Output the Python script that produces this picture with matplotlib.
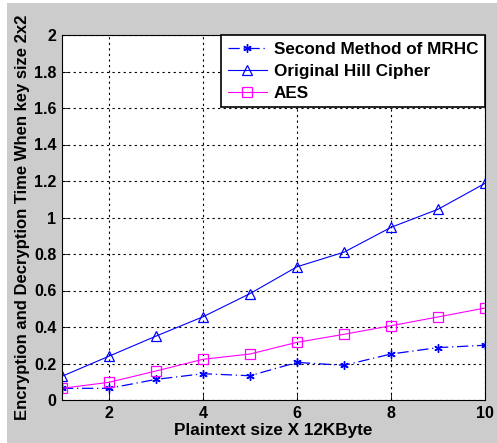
import matplotlib
matplotlib.use("Agg")
import matplotlib.pyplot as plt
from matplotlib.patches import Rectangle

x = [1, 2, 3, 4, 5, 6, 7, 8, 9, 10]
mrhc = [0.064, 0.064, 0.113, 0.144, 0.133, 0.206, 0.19, 0.252, 0.287, 0.30]
hill = [0.13, 0.24, 0.35, 0.456, 0.583, 0.73, 0.81, 0.946, 1.045, 1.187]
aes = [0.064, 0.097, 0.159, 0.223, 0.252, 0.316, 0.36, 0.407, 0.455, 0.504]
labels = ["Second Method of MRHC", "Original Hill Cipher", "AES"]
xticks = [2, 4, 6, 8, 10]
yticks = [0, 0.2, 0.4, 0.6, 0.8, 1, 1.2, 1.4, 1.6, 1.8, 2]
yticklabels = ["0", "0.2", "0.4", "0.6", "0.8", "1", "1.2", "1.4", "1.6", "1.8", "2"]

plt.rcParams['font.family'] = ['Liberation Sans', 'DejaVu Sans']
plt.rcParams['font.weight'] = 'bold'

fig = plt.figure(figsize=(4.97, 4.43), dpi=100, facecolor='white')
fig.patches.append(Rectangle((7/497, 0), 1, 1 - 3/443, transform=fig.transFigure,
                             facecolor='#cccccc', edgecolor='none', zorder=-10))
ax = fig.add_axes([62/497, 43/443, 423/497, 365/443])
ax.set_facecolor('white')

ax.plot(x, mrhc, color='#0000ff', linestyle='-.', marker=(6, 2, 0), markersize=6,
        markeredgewidth=1.0, linewidth=0.9, label=labels[0], dashes=(9, 3, 1, 3))
ax.plot(x, hill, color='#0000ff', linestyle='-', marker='^', markersize=7,
        markerfacecolor='none', markeredgewidth=0.9, linewidth=0.8, label=labels[1])
ax.plot(x, aes, color='#ff00ff', linestyle='-', marker='s', markersize=6.5,
        markerfacecolor='none', markeredgewidth=0.9, linewidth=0.8, label=labels[2])

ax.set_xlim(1, 10)
ax.set_ylim(0, 2)
ax.set_xticks(xticks)
ax.set_yticks(yticks)
ax.set_yticklabels(yticklabels)
ax.tick_params(labelsize=11.5, direction='in', length=4, width=0.6, pad=4)
ax.grid(True, color='black', linestyle=(0, (2, 3)), linewidth=0.8)
for s in ax.spines.values():
    s.set_linewidth(0.8)

ax.set_xlabel("Plaintext size X 12KByte", fontsize=12.3, fontweight='bold', labelpad=2)
ax.set_ylabel("Encryption and Decryption Time When key size 2x2", fontsize=12,
              fontweight='bold', labelpad=3)

leg = ax.legend(loc='upper right', fontsize=12.3, frameon=True, fancybox=False,
                borderaxespad=0, handlelength=2.3, handletextpad=0.4,
                borderpad=0.4, labelspacing=0.4)
leg.get_frame().set_edgecolor('black')
leg.get_frame().set_linewidth(1.2)
leg.get_frame().set_alpha(1)
for t in leg.get_texts():
    t.set_fontweight('bold')

fig.savefig("out.png", dpi=100, facecolor=fig.get_facecolor())
